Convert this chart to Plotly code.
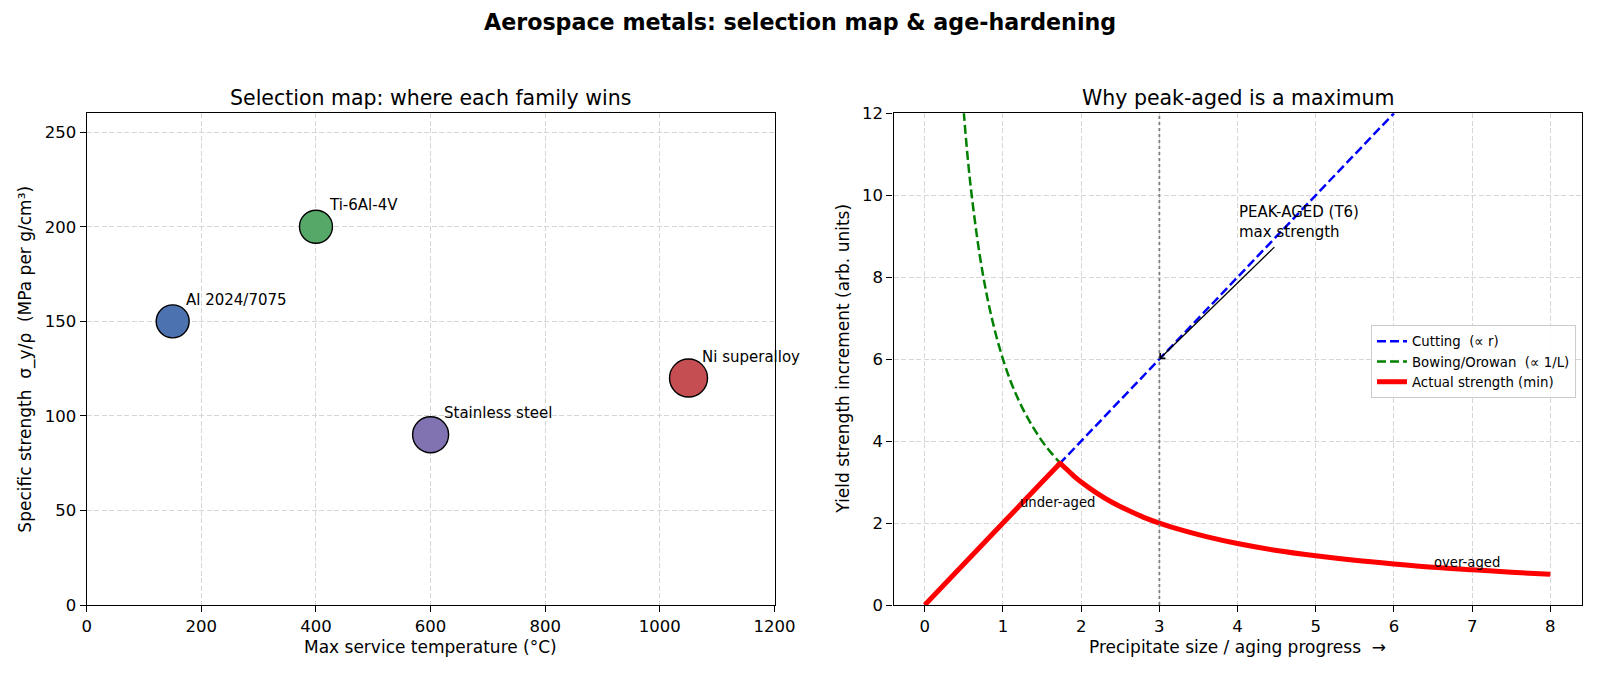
import plotly.graph_objects as go

# ---------------- data ----------------
# Left: selection map
materials = ["Al 2024/7075", "Ti-6Al-4V", "Stainless steel", "Ni superalloy"]
max_temp = [150, 400, 600, 1050]
spec_strength = [150, 200, 90, 120]
mat_colors = ["#4c72b0", "#55a868", "#8172b2", "#c44e52"]
mat_sizes = [33, 33, 36, 38]

# Right: age-hardening curves
cut_x = [0, 6]
cut_y = [0, 12]

bow_x = [0.45, 0.5, 0.55, 0.6, 0.7, 0.8, 0.9, 1.0, 1.1, 1.2, 1.3, 1.4, 1.5, 1.6, 1.73,
         1.8, 1.9, 2.0, 2.2, 2.4, 2.6, 2.8, 3.0, 3.3, 3.6, 4.0, 4.5, 5.0, 5.5,
         6.0, 6.5, 7.0, 7.5, 8.0]
bow_y = [13.3, 12.0, 10.9, 10.0, 8.57, 7.5, 6.67, 6.0, 5.45, 5.0, 4.62, 4.29, 4.0, 3.75, 3.47,
         3.33, 3.16, 3.0, 2.73, 2.5, 2.31, 2.14, 2.0, 1.82, 1.67, 1.5, 1.33, 1.2, 1.09,
         1.0, 0.92, 0.86, 0.8, 0.75]

act_x = [0, 0.5, 1.0, 1.5, 1.7, 1.73, 1.76, 1.9, 2.0, 2.2, 2.4, 2.6, 2.8, 3.0, 3.3, 3.6,
         4.0, 4.5, 5.0, 5.5, 6.0, 6.5, 7.0, 7.5, 8.0]
act_y = [0, 1.0, 2.0, 3.0, 3.4, 3.46, 3.41, 3.16, 3.0, 2.73, 2.5, 2.31, 2.14, 2.0, 1.82, 1.67,
         1.5, 1.33, 1.2, 1.09, 1.0, 0.92, 0.86, 0.8, 0.75]

peak_x = 3
peak_y = 6
peak_text_x, peak_text_y = 4, 9
arrow_tail_x, arrow_tail_y = 4.49, 8.77

left_xticks = [0, 200, 400, 600, 800, 1000, 1200]
left_yticks = [0, 50, 100, 150, 200, 250]
right_xticks = [0, 1, 2, 3, 4, 5, 6, 7, 8]
right_yticks = [0, 2, 4, 6, 8, 10, 12]

FONT = "DejaVu Sans"
W, H = 1600, 677

fig = go.Figure()

fig.add_trace(go.Scatter(
    x=max_temp, y=spec_strength, mode="markers",
    marker=dict(size=mat_sizes, color=mat_colors, opacity=1,
                line=dict(color="black", width=1.4)),
    showlegend=False, xaxis="x", yaxis="y", hoverinfo="skip"))

fig.add_trace(go.Scatter(
    x=cut_x, y=cut_y, mode="lines", name="Cutting\u00a0 (\u221d r)",
    line=dict(color="#0000ff", width=2.5, dash="9px,4px"),
    xaxis="x2", yaxis="y2"))
fig.add_trace(go.Scatter(
    x=bow_x, y=bow_y, mode="lines", name="Bowing/Orowan\u00a0 (\u221d 1/L)",
    line=dict(color="#008000", width=2.5, dash="9px,4px", shape="spline", smoothing=1),
    xaxis="x2", yaxis="y2"))
fig.add_trace(go.Scatter(
    x=act_x, y=act_y, mode="lines", name="Actual strength (min)",
    line=dict(color="#ff0000", width=5, shape="spline", smoothing=1),
    xaxis="x2", yaxis="y2"))

axis_common = dict(
    showline=True, mirror=True, linecolor="black", linewidth=1.3,
    ticks="outside", ticklen=6, tickwidth=1.3, tickcolor="black",
    showgrid=True, gridcolor="#d6d6d6", gridwidth=1, griddash="5px,2.5px",
    zeroline=False, automargin=False,
    tickfont=dict(family=FONT, size=16.5, color="black"),
)

ydom = [1 - 605 / H, 1 - 113.3 / H]
fig.update_layout(
    template="none",
    width=W, height=H, margin=dict(l=0, r=0, t=0, b=0, pad=0, autoexpand=False),
    paper_bgcolor="white", plot_bgcolor="white",
    font=dict(family=FONT, color="black"),
    xaxis=dict(domain=[86.7 / W, 774.5 / W], range=[0, 1200], tickvals=left_xticks,
               anchor="y", **axis_common),
    yaxis=dict(domain=ydom, range=[0, 260], tickvals=left_yticks, anchor="x", **axis_common),
    xaxis2=dict(domain=[893.5 / W, 1581.6 / W], range=[-0.4, 8.4], tickvals=right_xticks,
                anchor="y2", **axis_common),
    yaxis2=dict(domain=ydom, range=[0, 12], tickvals=right_yticks, anchor="x2", **axis_common),
    legend=dict(x=1576 / W, y=1 - 325 / H, xanchor="right", yanchor="top",
                bgcolor="rgba(255,255,255,0.85)", bordercolor="#cccccc", borderwidth=1,
                font=dict(family=FONT, size=13.3), itemwidth=30, tracegroupgap=0),
    showlegend=True,
)

# vertical dotted line at peak
fig.add_shape(type="line", xref="x2", yref="y2", x0=peak_x, x1=peak_x, y0=0, y1=12,
              line=dict(color="gray", width=1.8, dash="dot"), layer="above")

ann = []
# titles
ann.append(dict(text="<b>Aerospace metals: selection map &amp; age-hardening</b>",
                xref="paper", yref="paper", x=0.5, y=1 - 21.5 / H, xanchor="center",
                yanchor="middle", showarrow=False, font=dict(size=22.2, family=FONT)))
ann.append(dict(text="Selection map: where each family wins", xref="paper", yref="paper",
                x=(86.7 + 774.5) / 2 / W, y=1 - 98 / H, xanchor="center", yanchor="middle",
                showarrow=False, font=dict(size=20.5, family=FONT)))
ann.append(dict(text="Why peak-aged is a maximum", xref="paper", yref="paper",
                x=(893.5 + 1581.6) / 2 / W, y=1 - 98 / H, xanchor="center", yanchor="middle",
                showarrow=False, font=dict(size=20.5, family=FONT)))
# axis labels
ann.append(dict(text="Max service temperature (\u00b0C)", xref="paper", yref="paper",
                x=(86.7 + 774.5) / 2 / W, y=1 - 647 / H, xanchor="center", yanchor="middle",
                showarrow=False, font=dict(size=17, family=FONT)))
ann.append(dict(text="Precipitate size / aging progress\u00a0 \u2192", xref="paper", yref="paper",
                x=(893.5 + 1581.6) / 2 / W, y=1 - 647 / H, xanchor="center", yanchor="middle",
                showarrow=False, font=dict(size=17, family=FONT)))
ann.append(dict(text="Specific strength\u00a0 \u03c3_y/\u03c1\u00a0 (MPa per g/cm\u00b3)",
                xref="paper", yref="paper", x=25.5 / W, y=(ydom[0] + ydom[1]) / 2,
                xanchor="center", yanchor="middle", textangle=-90, showarrow=False,
                font=dict(size=17, family=FONT)))
ann.append(dict(text="Yield strength increment (arb. units)",
                xref="paper", yref="paper", x=843.5 / W, y=(ydom[0] + ydom[1]) / 2,
                xanchor="center", yanchor="middle", textangle=-90, showarrow=False,
                font=dict(size=17, family=FONT)))
# material labels
for name, tx, ty in zip(materials, max_temp, spec_strength):
    ann.append(dict(text=name, xref="x", yref="y", x=tx, y=ty, xanchor="left",
                    yanchor="bottom", xshift=11.5, yshift=10.5, showarrow=False,
                    font=dict(size=15, family=FONT)))
# peak annotation
ann.append(dict(text="PEAK-AGED (T6)<br>max strength", xref="x2", yref="y2",
                x=peak_text_x, y=peak_text_y, xanchor="left", yanchor="bottom", align="left",
                xshift=-1, yshift=-6.5, showarrow=False, font=dict(size=15, family=FONT)))
ann.append(dict(text="", xref="x2", yref="y2", x=peak_x, y=peak_y,
                axref="x2", ayref="y2", ax=arrow_tail_x, ay=arrow_tail_y,
                showarrow=True, arrowhead=4, arrowsize=1.1, arrowwidth=1.3,
                arrowcolor="black"))
ann.append(dict(text="under-aged", xref="x2", yref="y2", x=1.2, y=2.4, xanchor="left",
                yanchor="bottom", xshift=-1, yshift=-5, showarrow=False,
                font=dict(size=13.2, family=FONT)))
ann.append(dict(text="over-aged", xref="x2", yref="y2", x=6.5, y=0.93, xanchor="left",
                yanchor="bottom", xshift=-1, yshift=-5.5, showarrow=False,
                font=dict(size=13.2, family=FONT)))

fig.update_layout(annotations=ann)

fig.write_html("out.html")
